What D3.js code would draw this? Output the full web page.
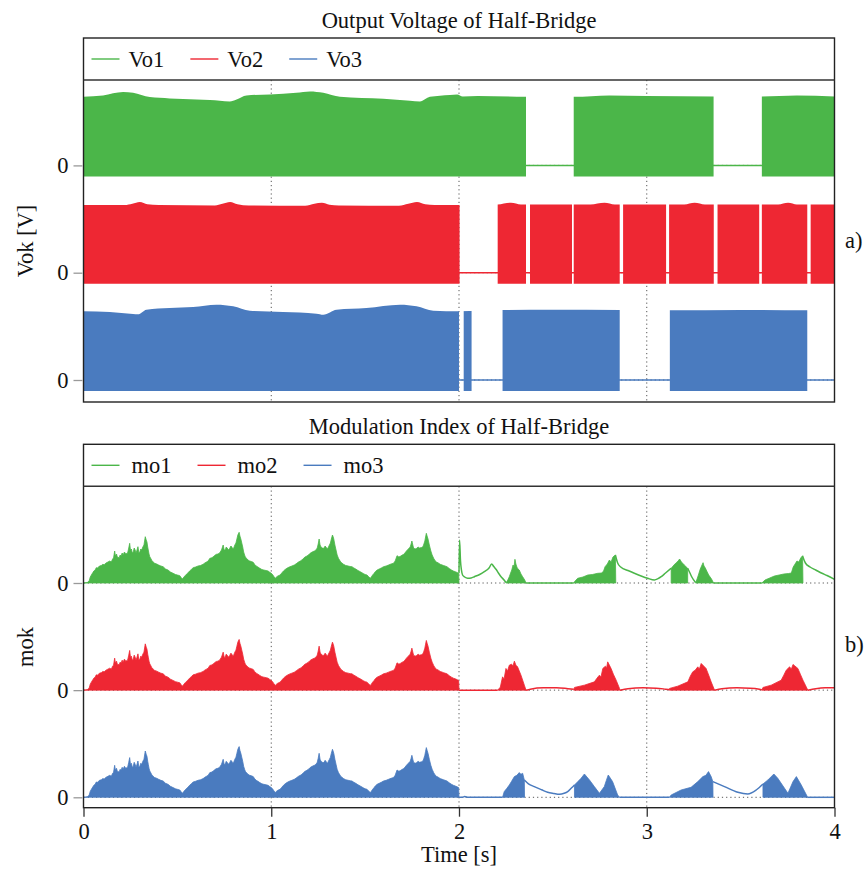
<!DOCTYPE html>
<html>
<head>
<meta charset="utf-8">
<script src="https://cdn.jsdelivr.net/npm/d3@7"></script>
<style>
  body { margin: 0; background: #fff; }
  svg text { font-family: 'Liberation Serif', 'Times New Roman', serif; fill: #111; font-size: 22.5px; }
  .grid { stroke: #555; stroke-width: 1; stroke-dasharray: 1.2 3; }
  .axis .domain { display: none; }
  .axis line { stroke: #999; stroke-width: 1.3; }
  .xaxis line { stroke: #333; }
</style>
</head>
<body>
<div class="chart"></div>
<script>
const timeTicks = [0, 1, 2, 3, 4]
const seriesColors = ['#4bb649', '#ee2733', '#4a7bbf']

// a) output voltage: upper envelope of the switching signal [t, V]
const voNames = ['Vo1', 'Vo2', 'Vo3']
const voBottom = -11
const vo1Top = [[0, 68.6], [0.104, 70], [0.211, 73.3], [0.264, 72.6], [0.353, 68.3], [0.459, 67], [0.673, 65.3], [0.779, 64], [0.815, 66], [0.868, 70], [0.993, 71], [1.134, 72.6], [1.206, 74], [1.277, 72.6], [1.366, 68.6], [1.597, 66.6], [1.739, 64.6], [1.792, 64], [1.845, 68.6], [1.952, 70.5], [1.99, 71], [2.02, 69], [2.1, 69.3], [2.357, 68.6], [2.611, 68.6], [2.8, 70], [3.0, 69.5], [3.356, 69], [3.613, 69], [3.8, 70], [4, 69]]
const vo2Top = [[0, 67.7], [0.22, 67.7], [0.26, 69], [0.3, 70.7], [0.34, 68.5], [0.4, 67.7], [0.7, 67.3], [0.74, 69], [0.781, 70.7], [0.82, 68.5], [0.88, 67.3], [1.18, 67], [1.23, 69], [1.27, 70], [1.31, 68], [1.36, 67.3], [1.68, 67], [1.73, 69], [1.776, 70.7], [1.82, 68.5], [1.87, 67.7], [2.0, 67.7], [2.206, 68.3], [2.277, 70], [2.33, 68.3], [2.7, 68.3], [2.775, 70], [2.83, 68.3], [3.2, 68.3], [3.255, 70], [3.31, 68.3], [3.7, 68.3], [3.753, 70], [3.8, 68.3], [4, 68.3]]
const vo3Top = [[0, 68.7], [0.14, 68], [0.264, 66], [0.29, 65.7], [0.335, 70.3], [0.459, 72], [0.584, 73], [0.708, 75.3], [0.797, 73.7], [0.886, 69.3], [1.063, 68], [1.241, 66.3], [1.277, 65.3], [1.348, 70.3], [1.507, 72], [1.686, 75.3], [1.774, 73.7], [1.863, 69.3], [2.0, 68.7], [2.232, 70], [2.5, 70.3], [2.856, 70], [3.123, 69.7], [3.5, 70], [3.855, 69.7], [4, 69.7]]
// intervals where the leg is switching [start, end] s
const vo1On = [[0, 2.357], [2.611, 3.356], [3.613, 4]]
const vo2On = [[0, 2.003], [2.206, 2.357], [2.378, 2.602], [2.611, 2.856], [2.874, 3.103], [3.119, 3.357], [3.377, 3.599], [3.613, 3.855], [3.873, 4]]
const vo3On = [[0, 2.0], [2.025, 2.067], [2.232, 2.856], [3.123, 3.855]]

// b) modulation index, first two seconds (same for all three legs) [t, m]
const moNames = ['mo1', 'mo2', 'mo3']
const moHead = [
  [0, 0], [0.02, 0.5], [0.03, 2], [0.036, 6], [0.042, 8], [0.05, 10.5], [0.055, 12], [0.062, 13], [0.068, 15.3], [0.075, 15], [0.085, 17], [0.095, 17.5], [0.103, 18.7], [0.11, 18.3], [0.12, 20], [0.13, 21], [0.14, 22], [0.148, 21], [0.155, 24], [0.16, 25], [0.166, 32], [0.17, 27], [0.176, 29], [0.18, 26], [0.19, 25.3], [0.195, 28], [0.2, 27], [0.206, 30], [0.211, 28], [0.218, 31], [0.225, 29], [0.235, 30], [0.241, 35], [0.246, 39.7], [0.25, 33], [0.255, 34], [0.26, 30], [0.265, 31], [0.27, 35], [0.275, 33], [0.28, 30], [0.285, 33], [0.29, 36.3], [0.295, 30], [0.3, 31], [0.305, 34], [0.31, 33], [0.316, 36], [0.322, 38], [0.329, 46.3], [0.334, 43], [0.338, 41], [0.342, 36], [0.345, 33], [0.349, 29], [0.353, 26.3], [0.36, 24], [0.365, 22], [0.372, 21], [0.379, 19.7], [0.39, 19], [0.4, 18], [0.412, 17], [0.424, 16.3], [0.437, 14], [0.45, 13], [0.463, 11], [0.477, 9.7], [0.49, 8.5], [0.5, 8], [0.513, 7.3], [0.52, 5.5], [0.527, 4],
  [0.535, 6], [0.542, 7.5], [0.548, 8.7], [0.556, 10], [0.565, 12], [0.574, 13.5], [0.584, 15.3], [0.597, 16], [0.61, 17], [0.623, 17.5], [0.637, 18.7], [0.646, 20], [0.655, 21], [0.664, 22], [0.673, 24.7], [0.68, 25], [0.69, 26], [0.698, 27.5], [0.708, 28.7], [0.716, 29], [0.725, 30], [0.735, 33], [0.744, 38], [0.749, 33], [0.755, 33], [0.76, 36], [0.765, 35], [0.772, 33], [0.779, 34.7], [0.785, 37], [0.79, 36], [0.795, 34], [0.8, 35], [0.806, 38], [0.812, 40], [0.817, 44], [0.822, 48], [0.829, 50.7], [0.833, 47], [0.838, 44], [0.843, 40], [0.848, 36], [0.853, 31], [0.858, 28], [0.862, 26], [0.868, 24.7], [0.876, 23], [0.885, 22], [0.894, 21.5], [0.904, 20.7], [0.912, 18.5], [0.92, 17], [0.929, 16], [0.939, 14.7], [0.95, 13.5], [0.96, 13], [0.972, 12.5], [0.983, 12], [0.99, 11], [0.998, 10], [1.006, 8.7], [1.014, 6.5], [1.021, 4.7],
  [1.028, 6], [1.035, 7], [1.041, 7.5], [1.047, 8], [1.056, 10], [1.065, 12], [1.074, 13.5], [1.083, 14.7], [1.096, 16], [1.11, 17], [1.123, 18], [1.136, 19.7], [1.145, 21], [1.155, 22], [1.163, 23], [1.172, 24.7], [1.18, 26], [1.19, 27], [1.198, 28], [1.207, 29.7], [1.218, 31], [1.23, 32], [1.238, 33], [1.245, 35], [1.25, 39], [1.255, 44], [1.26, 38], [1.265, 36], [1.272, 35], [1.28, 34.7], [1.287, 37], [1.295, 35], [1.3, 34], [1.305, 36.3], [1.31, 38], [1.315, 40], [1.32, 44], [1.326, 48], [1.33, 46], [1.333, 44], [1.339, 38], [1.345, 33], [1.351, 28], [1.358, 24.7], [1.37, 21], [1.385, 18.7], [1.397, 17.5], [1.41, 17], [1.42, 16.5], [1.43, 16.3], [1.44, 15], [1.45, 14], [1.462, 12.5], [1.474, 11.3], [1.49, 9.5], [1.5, 8.5], [1.51, 8], [1.518, 6.5], [1.527, 4.7],
  [1.533, 6], [1.54, 8], [1.547, 9.5], [1.554, 11.3], [1.564, 13], [1.575, 14], [1.586, 15], [1.598, 16.3], [1.612, 17], [1.625, 18], [1.638, 19], [1.651, 19.7], [1.66, 22], [1.67, 27.3], [1.68, 26], [1.69, 27], [1.698, 28], [1.705, 28.7], [1.712, 30], [1.72, 32], [1.73, 34], [1.74, 36], [1.745, 39], [1.749, 42], [1.754, 38], [1.758, 35], [1.766, 34], [1.775, 34.7], [1.782, 36], [1.79, 35], [1.8, 35.5], [1.808, 36.3], [1.813, 39], [1.818, 42], [1.822, 46], [1.826, 49.7], [1.83, 47], [1.835, 44], [1.842, 38], [1.85, 32], [1.857, 28], [1.865, 24.7], [1.872, 22.5], [1.88, 21], [1.89, 20], [1.9, 18.7], [1.918, 17.5], [1.936, 16.3], [1.948, 14.5], [1.96, 13], [1.97, 12], [1.98, 11.3], [1.99, 10.5], [1.998, 9.7], [2.0, 0]
]

// after 2 s: switching humps (filled) and continuous parts (lines)
const mo1Fill = [
  [[2.25, 0], [2.26, 3], [2.268, 6.3], [2.275, 10], [2.281, 13], [2.288, 18], [2.293, 16], [2.298, 23.7], [2.303, 19], [2.31, 15], [2.321, 13], [2.33, 9], [2.339, 6.3], [2.35, 3], [2.357, 0]],
  [[2.611, 0], [2.615, 1.3], [2.632, 4.7], [2.66, 6], [2.686, 8], [2.71, 8.5], [2.739, 9.7], [2.76, 10], [2.77, 12], [2.778, 16.3], [2.79, 19], [2.801, 23], [2.81, 21], [2.82, 26], [2.833, 28], [2.835, 0]],
  [[3.13, 0], [3.13, 14.7], [3.145, 18], [3.157, 20.3], [3.167, 22], [3.175, 24], [3.185, 21], [3.2, 18], [3.218, 14.7], [3.218, 0]],
  [[3.26, 0], [3.268, 4], [3.275, 8], [3.28, 11], [3.285, 14], [3.292, 17], [3.3, 20.3], [3.305, 17], [3.312, 15], [3.322, 11], [3.33, 8], [3.345, 4], [3.356, 0]],
  [[3.613, 0], [3.63, 3], [3.655, 5], [3.68, 7], [3.705, 8], [3.73, 9], [3.755, 9.5], [3.77, 10], [3.78, 16], [3.79, 19], [3.8, 22], [3.81, 21], [3.82, 25], [3.83, 27.3], [3.832, 0]]
]
const mo1Line = [
  [[2.0, 9.7], [2.003, 43], [2.008, 22], [2.013, 13], [2.019, 8], [2.03, 6], [2.046, 4.7], [2.065, 5], [2.082, 6.3], [2.11, 8.5], [2.135, 11.3], [2.16, 15], [2.174, 19], [2.185, 16.5], [2.197, 13.7], [2.21, 10], [2.224, 6.3], [2.24, 3], [2.25, 0.5]],
  [[2.357, 0], [2.611, 0]],
  [[2.833, 28], [2.845, 20], [2.863, 15.7], [2.9, 12.5], [2.934, 9.7], [2.97, 7], [3.005, 4.7], [3.041, 3], [3.06, 4.3], [3.077, 6.3], [3.1, 10], [3.13, 14.7]],
  [[3.218, 14.7], [3.23, 10], [3.24, 6], [3.26, 0.5]],
  [[3.356, 0], [3.613, 0]],
  [[3.83, 27], [3.845, 20], [3.87, 16], [3.9, 13], [3.93, 10], [3.96, 7.5], [4.0, 3.7]]
]
const mo2Fill = [
  [[2.206, 0], [2.22, 3], [2.232, 13.3], [2.24, 11], [2.25, 21.7], [2.258, 19], [2.268, 25], [2.28, 26], [2.287, 24], [2.295, 29], [2.303, 25], [2.312, 23.3], [2.33, 15], [2.348, 5], [2.357, 0]],
  [[2.611, 0], [2.615, 2.7], [2.668, 5], [2.721, 8.3], [2.735, 12], [2.748, 15], [2.756, 13], [2.766, 21.7], [2.78, 24], [2.786, 22], [2.792, 28.3], [2.81, 21.7], [2.822, 16], [2.837, 10], [2.855, 1.7], [2.857, 0]],
  [[3.121, 0], [3.121, 1.7], [3.165, 4], [3.219, 8.3], [3.232, 14], [3.245, 18.3], [3.258, 20], [3.272, 23.3], [3.28, 21], [3.29, 26.7], [3.316, 21.7], [3.33, 15], [3.343, 8.3], [3.361, 0]],
  [[3.613, 0], [3.619, 2.7], [3.663, 5], [3.716, 10], [3.73, 15], [3.743, 20], [3.761, 23.3], [3.77, 21], [3.779, 25.7], [3.805, 21.7], [3.818, 16], [3.832, 10], [3.858, 0]]
]
const mo2Line = [
  [[2.0, 0], [2.206, 0]],
  [[2.357, 0], [2.38, 1], [2.45, 2.3], [2.52, 2.3], [2.58, 1.5], [2.611, 1]],
  [[2.857, 0], [2.9, 1.5], [2.98, 2.3], [3.05, 2], [3.1, 1], [3.121, 0.5]],
  [[3.361, 0], [3.4, 1.5], [3.48, 2.3], [3.55, 2], [3.6, 1], [3.613, 0.5]],
  [[3.858, 0], [3.9, 1.5], [3.95, 2.3], [4.0, 2.3]]
]
const mo3Fill = [
  [[2.232, 0], [2.241, 5.7], [2.255, 9], [2.268, 12.3], [2.28, 16], [2.295, 20.7], [2.308, 22], [2.321, 24.7], [2.33, 23], [2.339, 24], [2.348, 17.3], [2.349, 0]],
  [[2.615, 0], [2.615, 12.3], [2.633, 15.7], [2.65, 19], [2.668, 23.3], [2.695, 17.3], [2.721, 10.7], [2.748, 4], [2.774, 10.7], [2.785, 17], [2.795, 22.3], [2.818, 15.7], [2.845, 2.3], [2.855, 0]],
  [[3.121, 0], [3.13, 2.3], [3.183, 7.3], [3.236, 10], [3.272, 15.7], [3.299, 20.7], [3.315, 22], [3.329, 25.7], [3.343, 20.7], [3.352, 15.7], [3.353, 0]],
  [[3.619, 0], [3.619, 13.3], [3.645, 17.3], [3.677, 23.3], [3.698, 19], [3.734, 9], [3.752, 4], [3.779, 15.7], [3.797, 20.7], [3.823, 12.3], [3.855, 0.7], [3.856, 0]]
]
const mo3Line = [
  [[2.0, 0], [2.02, 0], [2.03, 0.7], [2.05, 0], [2.232, 0]],
  [[2.348, 17.3], [2.37, 13.5], [2.401, 10.7], [2.44, 7.5], [2.472, 5], [2.505, 3.8], [2.535, 3], [2.56, 4], [2.579, 5.7], [2.6, 9.5], [2.615, 12.3]],
  [[2.855, 0], [3.121, 0]],
  [[3.352, 15.7], [3.414, 10.7], [3.485, 5], [3.538, 3.3], [3.583, 7.3], [3.619, 13.3]],
  [[3.855, 0], [4, 0]]
]

const width = 868
const height = 874

const x = d3.scaleLinear().domain([0, 4]).range([83.5, 834.5])

const svg = d3.select('.chart')
  .append('svg')
  .attr('width', width)
  .attr('height', height)

const defs = svg.append('defs')

function drawPanel (p) {
  const y = d3.scaleLinear().domain(p.yDomain).range([p.plotBottom, p.legendBottom])
  const g = svg.append('g').attr('class', `panel-${p.tag}`)

  g.append('text')
    .attr('x', (x(0) + x(4)) / 2)
    .attr('y', p.boxTop - 10)
    .attr('text-anchor', 'middle')
    .text(p.title)

  // dotted grid
  g.selectAll('.vgrid')
    .data(timeTicks.slice(1, -1))
    .enter()
    .append('line')
    .attr('class', 'grid')
    .attr('x1', d => x(d))
    .attr('x2', d => x(d))
    .attr('y1', p.legendBottom)
    .attr('y2', p.plotBottom)
  g.selectAll('.hgrid')
    .data(p.offsets)
    .enter()
    .append('line')
    .attr('class', 'grid')
    .attr('x1', x(0))
    .attr('x2', x(4))
    .attr('y1', d => y(d))
    .attr('y2', d => y(d))

  p.traces(g, y)

  // frame + legend separator
  g.append('rect')
    .attr('x', x(0))
    .attr('y', p.boxTop)
    .attr('width', x(4) - x(0))
    .attr('height', p.plotBottom - p.boxTop)
    .attr('fill', 'none')
    .attr('stroke', '#222')
    .attr('stroke-width', 1.4)
  g.append('line')
    .attr('x1', x(0))
    .attr('x2', x(4))
    .attr('y1', p.legendBottom)
    .attr('y2', p.legendBottom)
    .attr('stroke', '#333')
    .attr('stroke-width', 1.6)

  g.append('g')
    .attr('class', 'axis')
    .attr('transform', `translate(${x(0) - 1},0)`)
    .call(d3.axisLeft(y).tickValues(p.offsets).tickFormat(() => '0').tickSize(9).tickPadding(5))

  // legend
  const legendY = (p.boxTop + p.legendBottom) / 2
  let cx = x(0) + 8
  p.names.forEach((name, i) => {
    g.append('line')
      .attr('x1', cx)
      .attr('x2', cx + 28)
      .attr('y1', legendY)
      .attr('y2', legendY)
      .attr('stroke', seriesColors[i])
      .attr('stroke-width', 1.4)
    const t = g.append('text')
      .attr('x', cx + 28 + p.legendGap)
      .attr('y', legendY + 7.5)
      .text(name)
    cx += 28 + p.legendGap + t.node().getComputedTextLength() + 26
  })

  g.append('text')
    .attr('transform', `translate(${33},${p.labelY}) rotate(-90)`)
    .attr('text-anchor', 'middle')
    .text(p.label)

  g.append('text')
    .attr('x', 845)
    .attr('y', p.tagY)
    .text(`${p.tag})`)

  return y
}

// a) output voltage
const voTops = [vo1Top, vo2Top, vo3Top]
const voOn = [vo1On, vo2On, vo3On]
const voOffsets = [214.6, 107.3, 0]

drawPanel({
  tag: 'a',
  title: 'Output Voltage of Half-Bridge',
  names: voNames,
  boxTop: 38,
  legendBottom: 80,
  plotBottom: 402,
  yDomain: [-22, 300],
  offsets: voOffsets,
  legendGap: 9,
  label: 'Vok [V]',
  labelY: 241,
  tagY: 248,
  traces: (g, y) => {
    voTops.forEach((top, i) => {
      const off = voOffsets[i]
      const clip = defs.append('clipPath').attr('id', `clip-vo${i}`)
      clip.selectAll('rect')
        .data(voOn[i])
        .enter()
        .append('rect')
        .attr('x', d => x(d[0]))
        .attr('width', d => x(d[1]) - x(d[0]))
        .attr('y', 0)
        .attr('height', height)

      g.append('line')
        .attr('x1', x(0))
        .attr('x2', x(4))
        .attr('y1', y(off))
        .attr('y2', y(off))
        .attr('stroke', seriesColors[i])
        .attr('stroke-width', 1.5)

      const area = d3.area()
        .x(d => x(d[0]))
        .y0(y(off + voBottom))
        .y1(d => y(off + d[1]))
        .curve(d3.curveMonotoneX)

      g.append('path')
        .datum(top)
        .attr('clip-path', `url(#clip-vo${i})`)
        .attr('d', area)
        .attr('fill', seriesColors[i])
    })
  }
})

// b) modulation index
const moFills = [mo1Fill, mo2Fill, mo3Fill]
const moLines = [mo1Line, mo2Line, mo3Line]
const moOffsets = [214.3, 107.15, 0]

drawPanel({
  tag: 'b',
  title: 'Modulation Index of Half-Bridge',
  names: moNames,
  boxTop: 444.3,
  legendBottom: 486.3,
  plotBottom: 807.7,
  yDomain: [-10.4, 311],
  offsets: moOffsets,
  legendGap: 12,
  label: 'mok',
  labelY: 647,
  tagY: 652,
  traces: (g, y) => {
    moOffsets.forEach((off, i) => {
      const area = d3.area()
        .x(d => x(d[0]))
        .y0(y(off))
        .y1(d => y(off + d[1]))

      const line = d3.line()
        .x(d => x(d[0]))
        .y(d => y(off + d[1]))
        .curve(d3.curveMonotoneX)

      g.selectAll(`.mo-fill-${i}`)
        .data([moHead].concat(moFills[i]))
        .enter()
        .append('path')
        .attr('class', `mo-fill-${i}`)
        .attr('d', area)
        .attr('fill', seriesColors[i])
        .attr('stroke', seriesColors[i])
        .attr('stroke-width', 0.8)

      g.selectAll(`.mo-line-${i}`)
        .data(moLines[i])
        .enter()
        .append('path')
        .attr('class', `mo-line-${i}`)
        .attr('d', line)
        .attr('fill', 'none')
        .attr('stroke', seriesColors[i])
        .attr('stroke-width', 1.5)
    })
  }
})

// time axis
svg.append('g')
  .attr('class', 'axis xaxis')
  .attr('transform', `translate(0,${807.7})`)
  .call(d3.axisBottom(x).tickValues(timeTicks).tickFormat(d3.format('d')).tickSize(9).tickPadding(6))

svg.append('text')
  .attr('x', (x(0) + x(4)) / 2)
  .attr('y', 862)
  .attr('text-anchor', 'middle')
  .text('Time [s]')
</script>
</body>
</html>
